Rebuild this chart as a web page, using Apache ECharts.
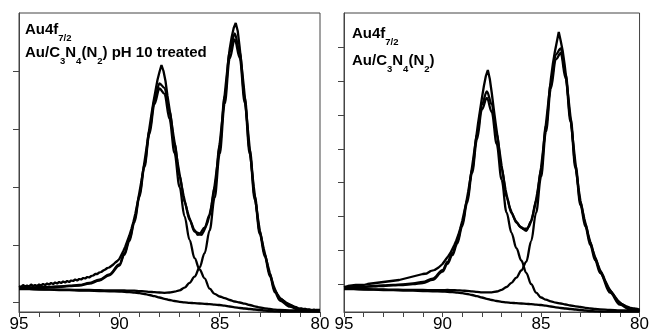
<!DOCTYPE html>
<html><head><meta charset="utf-8">
<script src="https://cdn.jsdelivr.net/npm/echarts@6/dist/echarts.min.js"></script>
<style>html,body{margin:0;padding:0;background:#fff}#c{width:652px;height:333px}</style>
</head><body><div id="c"></div>
<script>
// Binding energy (eV) sampling for fitted curves
const fitEnergy = [95, 94.5, 94, 93.5, 93, 92.5, 92, 91.5, 91, 90.5,
  90, 89.75, 89.5, 89.25, 89, 88.75, 88.5, 88.25, 88, 87.75,
  87.5, 87.25, 87, 86.75, 86.5, 86.25, 86, 85.75, 85.5, 85.25,
  85, 84.75, 84.5, 84.25, 84, 83.75, 83.5, 83.25, 83, 82.75,
  82.5, 82.25, 82, 81.5, 81, 80.5, 80];
// Binding energy (eV) sampling for raw spectra
const rawEnergy = [95,
  94.9, 94.8, 94.7, 94.6, 94.5, 94.4, 94.3, 94.2, 94.1, 94,
  93.9, 93.8, 93.7, 93.6, 93.5, 93.4, 93.3, 93.2, 93.1, 93,
  92.9, 92.8, 92.7, 92.6, 92.5, 92.4, 92.3, 92.2, 92.1, 92,
  91.9, 91.8, 91.7, 91.6, 91.5, 91.4, 91.3, 91.2, 91.1, 91,
  90.9, 90.8, 90.7, 90.6, 90.5, 90.4, 90.3, 90.2, 90.1, 90,
  89.9, 89.8, 89.7, 89.6, 89.5, 89.4, 89.3, 89.2, 89.1, 89,
  88.9, 88.8, 88.7, 88.6, 88.5, 88.4, 88.3, 88.2, 88.1, 88,
  87.9, 87.8, 87.7, 87.6, 87.5, 87.4, 87.3, 87.2, 87.1, 87,
  86.9, 86.8, 86.7, 86.6, 86.5, 86.4, 86.3, 86.2, 86.1, 86,
  85.9, 85.8, 85.7, 85.6, 85.5, 85.4, 85.3, 85.2, 85.1, 85,
  84.9, 84.8, 84.7, 84.6, 84.5, 84.4, 84.3, 84.2, 84.1, 84,
  83.9, 83.8, 83.7, 83.6, 83.5, 83.4, 83.3, 83.2, 83.1, 83,
  82.9, 82.8, 82.7, 82.6, 82.5, 82.4, 82.3, 82.2, 82.1, 82,
  81.9, 81.8, 81.7, 81.6, 81.5, 81.4, 81.3, 81.2, 81.1, 81,
  80.9, 80.8, 80.7, 80.6, 80.5, 80.4, 80.3, 80.2, 80.1, 80];
const xTickLabels = [95, 90, 85, 80];
const leftYTicks = [10, 67, 125, 183, 241];
const rightYTicks = [28, 61.8, 95.6, 129.4, 163.2, 197, 230.8, 264.6];

// ---- Left panel: Au/C3N4(N2) pH 10 treated ----
const leftBackground = [23, 22.8, 22.5, 22.3, 22, 21.8, 21.5, 21.3, 21, 20.7,
  20.4, 20.2, 19.8, 19.4, 18.8, 18, 17, 15.8, 14.5, 13.2,
  12, 11, 10.2, 9.6, 9.2, 8.8, 8.5, 8.2, 7.8, 7.4,
  7, 6.3, 5.5, 4.7, 4, 3.5, 3, 2.5, 2, 1.5,
  1, 0.7, 0.5, 0.4, 0.3, 0.3, 0.3];
const leftPeak88 = [24.2, 24.3, 24.5, 24.8, 25.2, 25.8, 26.5, 28.3, 31.5, 36.7,
  46.4, 57.2, 70.8, 89.4, 114.8, 145, 178, 207.8, 223.5, 218.2,
  193, 159, 125.2, 95.6, 72.2, 53.8, 42.5, 33.7, 23.3, 18.1,
  15.5, 13.8, 12, 10.5, 9.5, 8.3, 7, 5.7, 4.5, 3.7,
  3, 2.3, 2, 1.7, 1.5, 1.3, 1.3];
const leftPeak84 = [23.3, 23.1, 22.8, 22.7, 22.4, 22.3, 22, 22, 21.8, 21.6,
  21.5, 21.5, 21.4, 21.3, 20.9, 20.7, 20.2, 19.8, 19.5, 19.2,
  19.5, 20.4, 21.7, 24.3, 29.2, 35.3, 44.5, 58.8, 81.5, 114.4,
  158, 208.3, 253.5, 272.7, 254, 209.5, 158, 112.5, 78, 55.5,
  36, 19.7, 11.5, 5.4, 1.5, 0.8, 0.6];
const leftEnvelope = [24.5, 24.6, 24.8, 25.2, 25.6, 26.3, 27, 29, 32.3, 37.6,
  47.5, 58.5, 72.4, 91.3, 116.9, 147.7, 181.2, 211.8, 228.5, 224.2,
  200.5, 168.4, 136.7, 110.3, 92.2, 80.3, 78.5, 84.3, 97, 125.1,
  166.5, 215.8, 260, 278.5, 259.5, 214.3, 162, 115.7, 80.5, 57.7,
  38, 21.3, 13, 6.7, 2.7, 1.8, 1.6];
const leftRaw = [26,
  25, 27, 25.5, 26.5, 25.5, 27.5, 26, 27, 26, 27.5,
  26.5, 28, 27, 28.5, 27.5, 29, 28, 29.5, 28.5, 30,
  29, 30.5, 29.5, 31, 30, 31.5, 31, 32.5, 31.5, 33,
  32.5, 34, 33.5, 35, 34.5, 36, 36.5, 38, 38, 39.5,
  40, 41.5, 42.5, 44, 44.5, 46, 47.5, 49.5, 51, 53,
  57, 61, 65.5, 71, 76.5, 83, 90, 98.5, 108.5, 119.5,
  131, 143, 156.5, 170, 184, 197.5, 210, 221, 232, 240,
  247, 241, 231, 216, 203, 190, 176, 163.5, 150, 138,
  126.5, 116.5, 107.5, 100, 93.5, 88.5, 83, 80.5, 77, 77.5,
  77, 80.5, 85, 90, 97.5, 107, 119, 134, 150, 168,
  187, 207, 227, 246, 263, 275, 284, 289, 281, 264,
  245, 226, 205, 184, 163, 143, 125, 109, 94.5, 81.5,
  72, 63, 54.5, 46.5, 39, 32, 25.5, 20.5, 17, 14,
  12.5, 11, 9.5, 8.5, 7.5, 6.5, 5.5, 5, 4, 3.5,
  3.5, 3, 3, 2.5, 2.5, 2, 2.5, 2, 2, 2];

// ---- Right panel: Au/C3N4(N2) ----
const rightBackground = [23, 22.8, 22.5, 22.3, 22, 21.8, 21.5, 21.3, 21, 20.7,
  20.4, 20.2, 19.8, 19.4, 18.8, 18, 17, 15.8, 14.5, 13.2,
  12, 11, 10.2, 9.6, 9.2, 8.8, 8.5, 8.2, 7.8, 7.4,
  7, 6.3, 5.5, 4.7, 4, 3.5, 3, 2.5, 2, 1.5,
  1, 0.7, 0.5, 0.4, 0.3, 0.3, 0.3];
const rightPeak88 = [24.2, 24.6, 25, 25.6, 26, 26.6, 27, 27.8, 29, 32.2,
  40.4, 48.2, 56.8, 68.4, 85.8, 109, 139, 172.8, 202.5, 214.2,
  200, 168, 132.2, 99.6, 79.2, 63.8, 51.5, 39.2, 27.8, 19.4,
  14.5, 12.3, 10.7, 9.4, 8.5, 7.5, 6.5, 5.7, 5, 4.2,
  3.5, 3, 2.7, 2.2, 1.7, 1.4, 1.2];
const rightPeak84 = [23.2, 23.1, 22.8, 22.7, 22.5, 22.4, 22.2, 22.1, 22, 21.9,
  21.9, 22, 21.8, 21.7, 21.4, 21.1, 20.6, 20.2, 19.6, 19.6,
  19.7, 20.5, 22.2, 25, 29.2, 34.4, 41.5, 50.2, 70.8, 99.4,
  135, 180.3, 223.5, 252.7, 259, 233.5, 190, 143.5, 107, 85.5,
  67, 51.7, 39, 19.4, 7.3, 2.6, 1.3];
const rightEnvelope = [24.4, 24.9, 25.3, 26, 26.5, 27.2, 27.7, 28.6, 30, 33.4,
  41.9, 50, 58.8, 70.7, 88.4, 112.1, 142.6, 177.2, 207.6, 220.6,
  207.7, 177.5, 144.2, 115, 99.2, 89.4, 84.5, 81.2, 90.8, 111.4,
  142.5, 186.3, 228.7, 257.4, 263.5, 237.5, 193.5, 146.7, 110, 88.2,
  69.5, 54, 41.2, 21.2, 8.7, 3.7, 2.2];
const rightRaw = [25,
  24.5, 26, 25, 26.5, 25.5, 27, 26, 27, 26, 27,
  26.5, 28, 27, 28.5, 27.5, 29, 28, 29.5, 28.5, 30,
  29, 30.5, 29.5, 31, 30, 31.5, 30.5, 32, 31.5, 33,
  32, 34, 33.5, 35, 34.5, 36, 35.5, 37, 37.5, 38,
  39, 38.5, 40, 41, 40.5, 42, 43, 44.5, 46, 48,
  50, 53.5, 56, 59, 63, 67, 71.5, 77, 83.5, 91,
  100, 109, 120, 132, 145, 159, 173, 188, 201, 214,
  226, 236, 242, 233, 219, 203, 188, 174, 160, 146,
  134, 122, 113, 105, 100, 95.5, 91.5, 89, 86, 85.5,
  83, 82.5, 83.5, 86, 91, 98.5, 107, 118, 130, 144,
  161, 179, 197, 215, 233, 248, 260, 270, 280, 271,
  261, 247, 230, 212, 194, 175, 157, 139, 124, 111,
  102, 93, 85, 77, 70, 63.5, 57.5, 51.5, 46.5, 41.5,
  37.5, 33, 29.5, 25.5, 22, 19, 16.5, 14, 11.5, 9.5,
  8, 7, 6, 5, 4.5, 4, 3.5, 3, 3, 2.5];

const FONT = '"Liberation Sans", Arial, Helvetica, sans-serif';
const AXIS_COLOR = '#444';

function pairs(xs, ys) { return xs.map(function (x, i) { return [x, ys[i]]; }); }

function makeX(idx) {
  return {
    gridIndex: idx, type: 'value', min: 80, max: 95, interval: 1, inverse: true,
    axisLine: { show: true, onZero: false, lineStyle: { color: AXIS_COLOR, width: 1 } },
    axisTick: { show: true, length: 5, lineStyle: { color: AXIS_COLOR, width: 1 } },
    axisLabel: {
      show: true, color: '#000', fontSize: 17, fontFamily: FONT, margin: 4,
      showMinLabel: true, showMaxLabel: true,
      formatter: function (v) { return xTickLabels.indexOf(v) >= 0 ? String(v) : ''; }
    },
    splitLine: { show: false }
  };
}
function makeY(idx, ticks) {
  return {
    gridIndex: idx, type: 'value', min: 0, max: 299,
    axisLine: { show: true, lineStyle: { color: AXIS_COLOR, width: 1 } },
    axisTick: { show: true, length: 6, customValues: ticks, lineStyle: { color: AXIS_COLOR, width: 1 } },
    axisLabel: { show: false },
    splitLine: { show: false }
  };
}
function fitLine(idx, ys, z) {
  return {
    type: 'line', xAxisIndex: idx, yAxisIndex: idx, data: pairs(fitEnergy, ys),
    showSymbol: false, smooth: 0.35, smoothMonotone: 'x', silent: true, z: z,
    lineStyle: { color: '#000', width: 2.3 }
  };
}
function rawLine(idx, ys) {
  return {
    type: 'line', xAxisIndex: idx, yAxisIndex: idx, data: pairs(rawEnergy, ys),
    showSymbol: false, smooth: false, silent: true, z: 5,
    lineStyle: { color: '#000', width: 2.3 }
  };
}

const richStyles = {
  a: { fontSize: 15, fontWeight: 'bold', fontFamily: FONT, fill: '#000', color: '#000', lineHeight: 16, verticalAlign: 'top' },
  s: { fontSize: 9.5, fontWeight: 'bold', fontFamily: FONT, fill: '#000', color: '#000', lineHeight: 32, verticalAlign: 'middle' }
};
function label(x, y, text) {
  return {
    type: 'text', left: x, top: y, silent: true, z: 100,
    style: { text: text, rich: richStyles, fill: '#000', textAlign: 'left', textVerticalAlign: 'top' }
  };
}

const chart = echarts.init(document.getElementById('c'), null, { renderer: 'canvas' });
chart.setOption({
  animation: false,
  backgroundColor: '#fff',
  grid: [
    { left: 19, right: 332, top: 13, bottom: 21, show: true, borderColor: AXIS_COLOR, borderWidth: 1, backgroundColor: 'transparent' },
    { left: 344, right: 7, top: 13, bottom: 21, show: true, borderColor: AXIS_COLOR, borderWidth: 1, backgroundColor: 'transparent' }
  ],
  xAxis: [makeX(0), makeX(1)],
  yAxis: [makeY(0, leftYTicks), makeY(1, rightYTicks)],
  series: [
    fitLine(0, leftBackground, 2), fitLine(0, leftPeak88, 3), fitLine(0, leftPeak84, 3),
    fitLine(0, leftEnvelope, 4), rawLine(0, leftRaw),
    fitLine(1, rightBackground, 2), fitLine(1, rightPeak88, 3), fitLine(1, rightPeak84, 3),
    fitLine(1, rightEnvelope, 4), rawLine(1, rightRaw)
  ],
  graphic: [
    label(25, 22, '{a|Au4f}{s|7/2}'),
    label(25, 45, '{a|Au/C}{s|3}{a|N}{s|4}{a|(N}{s|2}{a|) pH 10 treated}'),
    label(352, 26, '{a|Au4f}{s|7/2}'),
    label(352, 53, '{a|Au/C}{s|3}{a|N}{s|4}{a|(N}{s|2}{a|)}')
  ]
});
</script>
</body></html>
